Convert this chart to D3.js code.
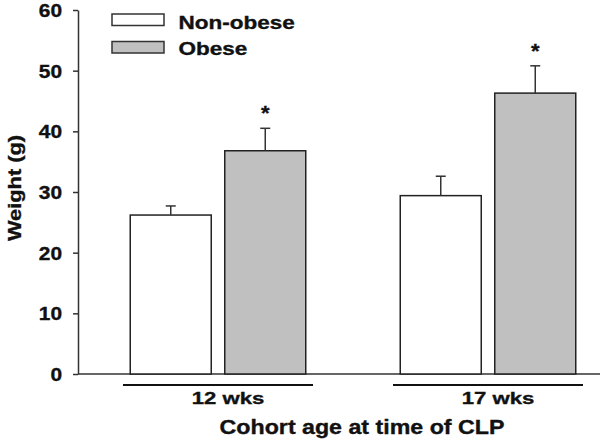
<!DOCTYPE html>
<html>
<head>
<meta charset="utf-8">
<script src="https://cdn.jsdelivr.net/npm/d3@7/dist/d3.min.js"></script>
<style>
  body { margin: 0; background: #fff; }
  text { font-family: "Liberation Sans", Arial, sans-serif; font-weight: bold; fill: #111; stroke: #111; stroke-width: 0.35px; }
</style>
</head>
<body>
<div id="chart"></div>
<script>
// data
var ages = ['12 wks', '17 wks'];
var groups = ['Non-obese', 'Obese'];
var nonObese = [26.2, 29.4];
var obese = [36.8, 46.3];
var nonObeseErr = [1.5, 3.2];
var obeseErr = [3.7, 4.5];
var significant = [true, true];   // asterisk over obese bar
var yTicks = [0, 10, 20, 30, 40, 50, 60];

var fullWidth = 600, fullHeight = 441;
var white = '#ffffff', grey = '#c0c0c0';
var colors = [white, grey];

var rows = [];
ages.forEach(function(a, i) {
  rows.push({age: a, group: groups[0], val: nonObese[i], err: nonObeseErr[i], star: false});
  rows.push({age: a, group: groups[1], val: obese[i], err: obeseErr[i], star: significant[i]});
});

var svg = d3.select('#chart').append('svg')
  .attr('width', fullWidth)
  .attr('height', fullHeight);

var axisX = 78;
var yScale = d3.scaleLinear().domain([0, 60]).range([374, 10]);

var ageScale = d3.scaleBand()
  .domain(ages)
  .range([123, 583])
  .paddingInner(80 / 270)
  .paddingOuter(0);

var groupScale = d3.scaleBand()
  .domain(groups)
  .range([0, ageScale.bandwidth()])
  .paddingInner(0.1429)
  .paddingOuter(0.0767);

// text stretched sideways like the original picture
function label(x, y, txt, size, sx, anchor, rot) {
  return svg.append('text')
    .attr('transform', 'translate(' + x + ',' + y + ')' + (rot ? ' rotate(' + rot + ')' : '') + ' scale(' + sx + ',1)')
    .style('font-size', size + 'px')
    .attr('text-anchor', anchor || 'start')
    .text(txt);
}

// y axis
var yAxis = d3.axisLeft(yScale).tickValues(yTicks).tickSize(5).tickSizeOuter(0);
var yAxisEle = svg.append('g')
  .attr('transform', 'translate(' + axisX + ',0)')
  .call(yAxis);
yAxisEle.select('.domain').attr('stroke', '#333').attr('stroke-width', 1.5);
yAxisEle.selectAll('.tick line').attr('stroke', '#333').attr('stroke-width', 1.5);
yAxisEle.selectAll('.tick text')
  .attr('x', null).attr('dy', null)
  .attr('transform', 'translate(-16,6.4) scale(1.16,1)')
  .style('font-size', '18px')
  .style('font-family', null)
  .attr('fill', '#111');

// x baseline
svg.append('line')
  .attr('x1', axisX).attr('x2', fullWidth)
  .attr('y1', yScale(0)).attr('y2', yScale(0))
  .attr('stroke', '#333').attr('stroke-width', 1.5);

// bars
var bars = svg.append('g').selectAll('rect.bar').data(rows).enter();
bars.append('rect')
  .classed('bar', true)
  .attr('x', function(d) { return ageScale(d.age) + groupScale(d.group); })
  .attr('width', groupScale.bandwidth())
  .attr('y', function(d) { return yScale(d.val); })
  .attr('height', function(d) { return yScale(0) - yScale(d.val); })
  .attr('fill', function(d) { return colors[groups.indexOf(d.group)]; })
  .attr('stroke', '#222')
  .attr('stroke-width', 1.5);

// error bars (upper only)
function cx(d) { return ageScale(d.age) + groupScale(d.group) + groupScale.bandwidth() / 2; }
bars.append('line')
  .attr('x1', cx).attr('x2', cx)
  .attr('y1', function(d) { return yScale(d.val); })
  .attr('y2', function(d) { return yScale(d.val + d.err); })
  .attr('stroke', '#333').attr('stroke-width', 1.5);
bars.append('line')
  .attr('x1', function(d) { return cx(d) - 5; })
  .attr('x2', function(d) { return cx(d) + 5; })
  .attr('y1', function(d) { return yScale(d.val + d.err); })
  .attr('y2', function(d) { return yScale(d.val + d.err); })
  .attr('stroke', '#333').attr('stroke-width', 1.5);

rows.filter(function(d) { return d.star; }).forEach(function(d) {
  label(cx(d), yScale(d.val + d.err) - 8, '*', 20, 1.1, 'middle');
});

// group underlines and labels
ages.forEach(function(a) {
  svg.append('line')
    .attr('x1', ageScale(a)).attr('x2', ageScale(a) + ageScale.bandwidth())
    .attr('y1', 385).attr('y2', 385)
    .attr('stroke', '#111').attr('stroke-width', 2);
  label(ageScale(a) + ageScale.bandwidth() / 2 + 10, 404, a, 17, 1.3, 'middle');
});

label(362, 434, 'Cohort age at time of CLP', 19.5, 1.19, 'middle');
label(21, 188, 'Weight (g)', 18.5, 1.18, 'middle', -90);

// legend
var legend = svg.append('g').attr('class', 'legend');
groups.forEach(function(g, i) {
  legend.append('rect')
    .attr('x', 112).attr('y', 14 + i * 27.5)
    .attr('width', 52).attr('height', 11.5)
    .attr('fill', colors[i])
    .attr('stroke', '#333').attr('stroke-width', 1.5);
  label(178.5, 28.5 + i * 26.5, g, 18, 1.25, 'start');
});
</script>
</body>
</html>
